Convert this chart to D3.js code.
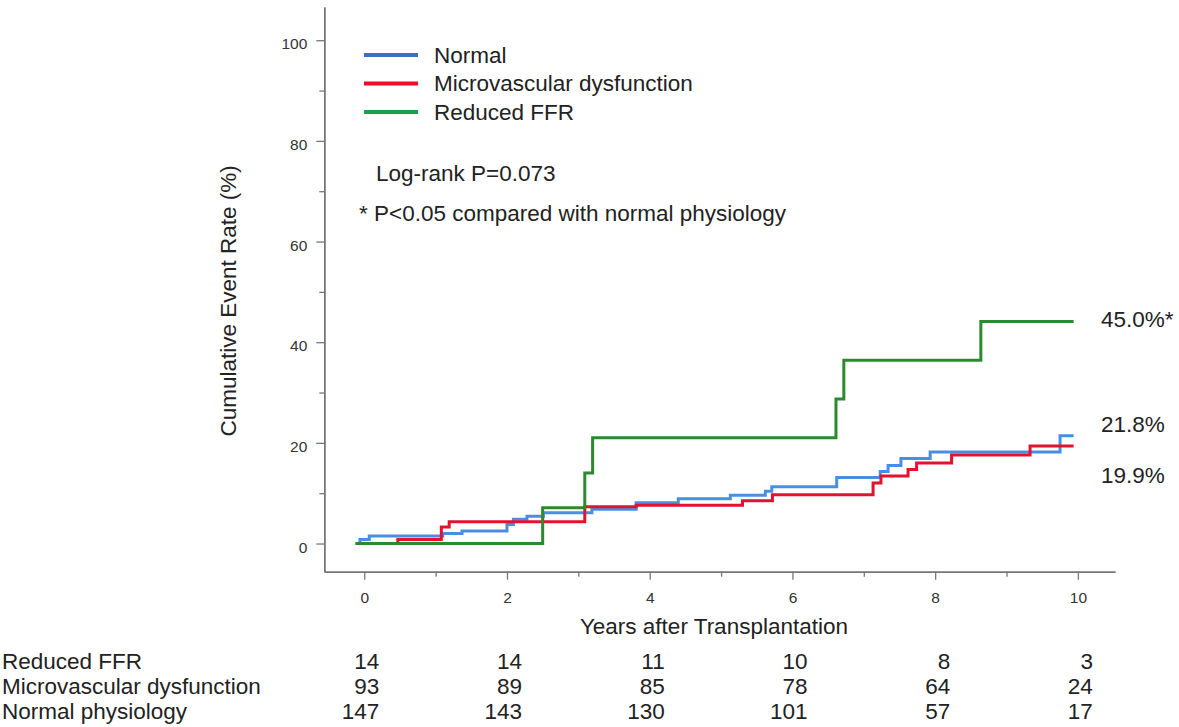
<!DOCTYPE html>
<html>
<head>
<meta charset="utf-8">
<script src="https://cdn.jsdelivr.net/npm/d3@7"></script>
<style>
  body { margin: 0; background: #fff; }
  svg text { font-family: "Liberation Sans", Arial, sans-serif; fill: #222; }
  .axis text { font-size: 15.5px; fill: #333; }
</style>
</head>
<body>
<div id="chart"></div>
<script>
// data
var groups = ["Normal", "Microvascular dysfunction", "Reduced FFR"];
var colors = ["#4a8ee4", "#e3122e", "#2b8a2e"];
var legendColors = ["#3b70c8", "#ec0f25", "#17a04e"];

var normalTime  = [-0.12, -0.06, 0.07, 1.10, 1.37, 2.00, 2.09, 2.28, 2.51, 3.19, 3.81, 4.40, 5.13, 5.62, 5.71, 6.62, 7.23, 7.34, 7.52, 7.93, 9.75, 9.94];
var normalRate  = [0, 0.8, 1.5, 2.0, 2.5, 3.8, 4.8, 5.4, 6.1, 6.8, 8.1, 8.9, 9.6, 10.4, 11.3, 13.1, 14.3, 15.5, 16.9, 18.2, 21.4, 21.4];
var microTime   = [-0.12, 0.47, 1.08, 1.19, 3.09, 3.81, 5.30, 5.72, 7.13, 7.24, 7.62, 7.74, 8.23, 9.33, 9.94];
var microRate   = [0, 0.8, 3.3, 4.3, 7.3, 7.6, 8.5, 9.7, 12.0, 13.4, 14.7, 16.0, 17.6, 19.4, 19.4];
var ffrTime     = [-0.12, 2.50, 3.09, 3.20, 6.61, 6.72, 8.64, 9.94];
var ffrRate     = [0, 7.1, 14.0, 21.0, 28.7, 36.4, 44.1, 44.1];

var endLabels = ["21.8%", "19.9%", "45.0%*"];
var endLabelY = [23.8, 13.6, 44.6];   // vertical placement in % units

var xTicks = [0, 2, 4, 6, 8, 10];
var xMinor = [1, 3, 5, 7, 9];
var yTicks = [0, 20, 40, 60, 80, 100];
var yMinor = [10, 30, 50, 70, 90];

var riskRows = ["Reduced FFR", "Microvascular dysfunction", "Normal physiology"];
var riskFFR    = [14, 14, 11, 10, 8, 3];
var riskMicro  = [93, 89, 85, 78, 64, 24];
var riskNormal = [147, 143, 130, 101, 57, 17];

var W = 1179, H = 727;
var fs = "22.5px";

var svg = d3.select("#chart").append("svg")
    .attr("width", W)
    .attr("height", H);

// scales (axis lines run past the tick range like the original)
var x = d3.scaleLinear().domain([-0.56, 10.52]).range([324.3, 1115]);
var y = d3.scaleLinear().domain([-5.6, 106.6]).range([571.7, 7]);

// axes
svg.append("g").attr("class", "axis").attr("transform", "translate(0," + y(-5.6) + ")")
  .call(d3.axisBottom(x).tickValues(xTicks).tickSize(8).tickPadding(12).tickSizeOuter(0));
svg.append("g").attr("class", "axis").attr("transform", "translate(0," + y(-5.6) + ")")
  .call(d3.axisBottom(x).tickValues(xMinor).tickSize(5).tickFormat("").tickSizeOuter(0));
svg.append("g").attr("class", "axis").attr("transform", "translate(" + x(-0.56) + ",0)")
  .call(d3.axisLeft(y).tickValues(yTicks).tickSize(8).tickPadding(9).tickSizeOuter(0))
  .selectAll(".tick text").attr("dy", "0.55em");
svg.append("g").attr("class", "axis").attr("transform", "translate(" + x(-0.56) + ",0)")
  .call(d3.axisLeft(y).tickValues(yMinor).tickSize(5).tickFormat("").tickSizeOuter(0));

svg.selectAll(".domain").attr("stroke", "#777").attr("stroke-width", 1.5);
svg.selectAll(".tick line").attr("stroke", "#777").attr("stroke-width", 1.3);

// axis titles
svg.append("text")
  .attr("transform", "translate(236," + y(48.2) + ") rotate(-90)")
  .attr("text-anchor", "middle")
  .style("font-size", fs)
  .text("Cumulative Event Rate (%)");

svg.append("text")
  .attr("x", x(4.9))
  .attr("y", 634)
  .attr("text-anchor", "middle")
  .style("font-size", fs)
  .text("Years after Transplantation");

// curves
var series = [
  { name: groups[0], t: normalTime, v: normalRate, color: colors[0] },
  { name: groups[1], t: microTime,  v: microRate,  color: colors[1] },
  { name: groups[2], t: ffrTime,    v: ffrRate,    color: colors[2] }
];

var line = d3.line()
  .x(function(d) { return x(d[0]); })
  .y(function(d) { return y(d[1]); })
  .curve(d3.curveStepAfter);

series.forEach(function(s) {
  var pts = s.t.map(function(t, i) { return [t, s.v[i]]; });
  svg.append("path")
    .datum(pts)
    .attr("fill", "none")
    .attr("stroke", s.color)
    .attr("stroke-width", 3)
    .attr("d", line);
});

// end labels
svg.selectAll(".endlab")
  .data(endLabels)
  .enter().append("text")
    .attr("x", 1101)
    .attr("y", function(d, i) { return y(endLabelY[i]); })
    .attr("dy", "0.35em")
    .style("font-size", fs)
    .text(function(d) { return d; });

// legend
var leg = svg.append("g");
groups.forEach(function(g, i) {
  var ly = 55 + i * 28.5;
  leg.append("line")
    .attr("x1", 364).attr("x2", 418)
    .attr("y1", ly).attr("y2", ly)
    .attr("stroke", legendColors[i])
    .attr("stroke-width", 4);
  leg.append("text")
    .attr("x", 434).attr("y", ly)
    .attr("dy", "0.35em")
    .style("font-size", fs)
    .text(g);
});

svg.append("text")
  .attr("x", 376).attr("y", 173).attr("dy", "0.35em")
  .style("font-size", fs)
  .text("Log-rank P=0.073");

svg.append("text")
  .attr("x", 359).attr("y", 213).attr("dy", "0.35em")
  .style("font-size", fs)
  .text("* P<0.05 compared with normal physiology");

// number at risk table
var riskData = [riskFFR, riskMicro, riskNormal];
riskRows.forEach(function(r, i) {
  var ry = 661 + i * 25;
  svg.append("text")
    .attr("x", 2).attr("y", ry).attr("dy", "0.35em")
    .style("font-size", fs)
    .text(r);
  svg.selectAll(".risk" + i)
    .data(riskData[i])
    .enter().append("text")
      .attr("x", function(d, j) { return x(xTicks[j]) + 15; })
      .attr("y", ry).attr("dy", "0.35em")
      .attr("text-anchor", "end")
      .style("font-size", fs)
      .text(function(d) { return d; });
});
</script>
</body>
</html>
